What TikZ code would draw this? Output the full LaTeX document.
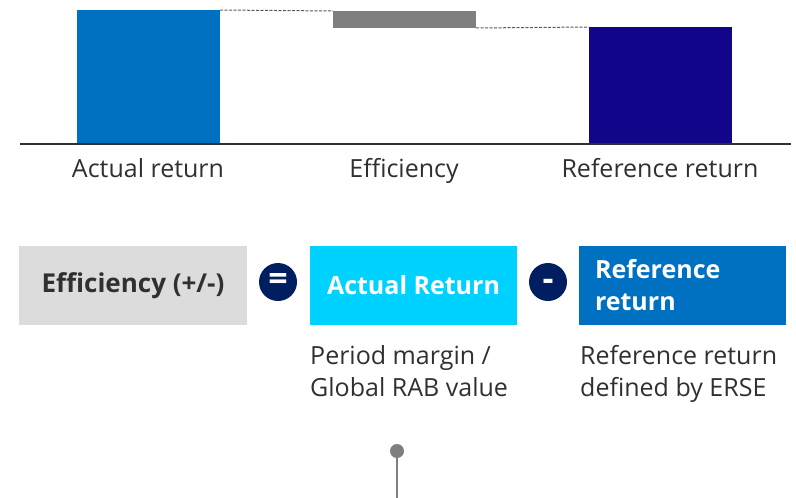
\documentclass[tikz,border=0pt]{standalone}
\usepackage{fontspec}
\setmainfont{Open Sans}
\usepackage{tikz}
\usetikzlibrary{positioning}
\definecolor{RetBlue}{HTML}{0070C0}
\definecolor{RetCyan}{HTML}{00D2FF}
\definecolor{RetIndigo}{HTML}{110589}
\definecolor{RetNavy}{HTML}{001E60}
\definecolor{RetGrey}{HTML}{7F7F7F}
\definecolor{RetLight}{HTML}{DCDCDC}
\definecolor{RetText}{HTML}{303030}
\newcommand{\opsign}[1]{\raisebox{-8.5pt}[0pt][0pt]{#1}}

\begin{document}
\begin{tikzpicture}[x=1pt,y=-1pt,
    bar/.style={anchor=north west,inner sep=0pt,outer sep=0pt,minimum width=143pt},
    stepline/.style={RetText!80,line width=1pt,dash pattern=on 3pt off 1.5pt},
    axislabel/.style={anchor=base,text=RetText,font=\fontsize{25}{32}\selectfont},
    termbox/.style={anchor=north west,inner sep=0pt,outer sep=0pt,
      minimum width=207pt,minimum height=79pt,text=white,
      font=\fontsize{25}{32}\selectfont\bfseries},
    operator/.style={circle,fill=RetNavy,minimum size=38pt,inner sep=0pt,
      text=white,font=\fontsize{34}{34}\selectfont\bfseries},
    note/.style={anchor=north west,inner sep=0pt,align=left,text=RetText,
      font=\fontsize{25}{32}\selectfont}]
  \useasboundingbox (0,0) rectangle (796,498);

  % waterfall bars
  \node[bar,fill=RetBlue,minimum height=134pt] (actbar) at (77,10) {};
  \node[bar,fill=RetGrey,minimum height=17pt] (effbar) at (333,11) {};
  \node[bar,fill=RetIndigo,minimum height=117pt] (refbar) at (589,27) {};
  \draw[stepline] (actbar.north east) -- (effbar.north west);
  \draw[stepline] (effbar.south east) -- (refbar.north west);
  \coordinate (axisl) at (20,144);
  \coordinate (axisr) at (791,144);
  \draw[RetText,line width=2pt] (axisl) -- (axisr);
  \node[axislabel] (actlbl) at (148,177) {Actual return};
  \node[axislabel] (efflbl) at (404,177) {Efficiency};
  \node[axislabel] (reflbl) at (660,177) {Reference return};

  % formula row
  \node[termbox,fill=RetLight,text=RetText,minimum width=228pt,
    font=\fontsize{26}{32}\selectfont\bfseries] (effbox) at (19,246)
    {Efficiency (+/-)};
  \node[operator] (eq) at (278,282) {\opsign{=}};
  \node[termbox,fill=RetCyan] (actbox) at (310,246) {Actual Return};
  \node[operator] (minus) at (548,282) {\opsign{-}};
  \node[termbox,fill=RetBlue,align=left,text width=175pt,inner xsep=16pt,
    minimum width=207pt] (refbox) at (579,246) {Reference\\return};
  \node[note] (actnote) at (310,345) {Period margin /\\Global RAB value};
  \node[note] (refnote) at (580,345) {Reference return\\defined by ERSE};

  % pin
  \node[circle,fill=RetGrey,minimum size=14pt,inner sep=0pt] (pin) at (397,451) {};
  \coordinate (pinfoot) at (397,498);
  \draw[RetGrey,line width=2pt] (pin) -- (pinfoot);
\end{tikzpicture}
\end{document}
